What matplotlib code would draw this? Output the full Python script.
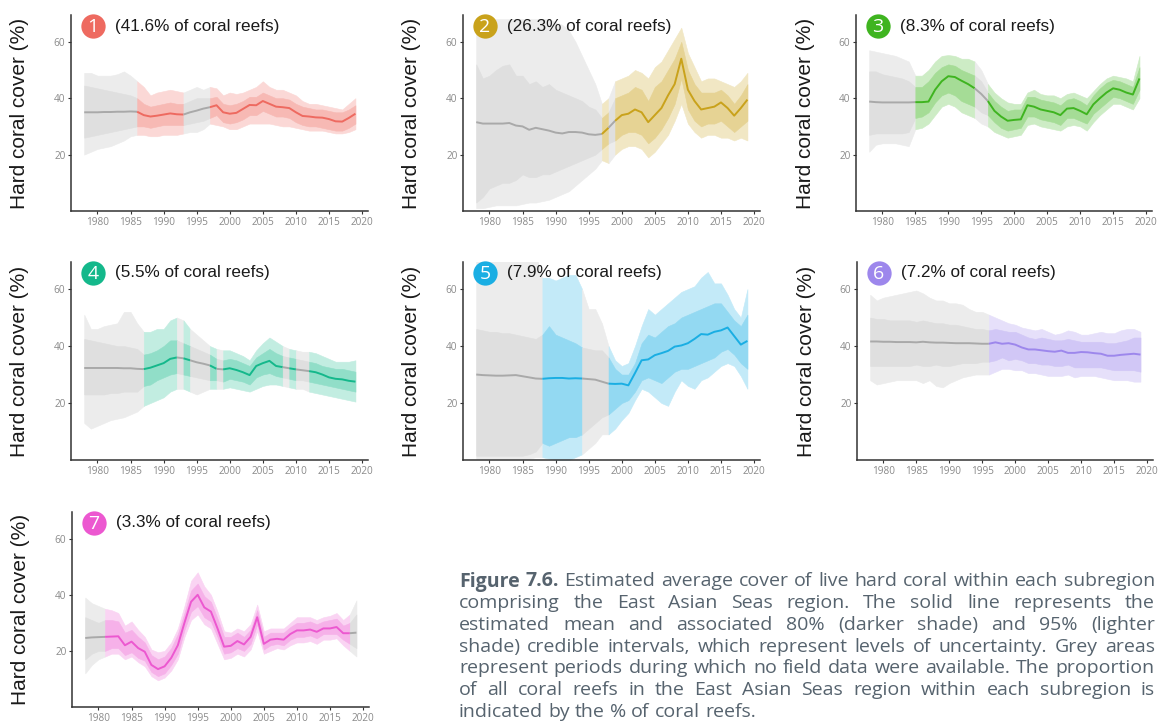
import numpy as np
import matplotlib
matplotlib.use("Agg")
import matplotlib.pyplot as plt
from matplotlib.colors import to_rgb

years = np.arange(1978, 2020)

# ---- panel 1 (41.6%)
mean_1 = [35.0, 35.0, 35.0, 35.1, 35.1, 35.2, 35.2, 35.3, 35.2, 34.0, 33.5, 33.8, 34.2, 34.6, 34.3,
          34.2, 35.0, 35.6, 36.3, 36.8, 37.5, 35.0, 34.5, 34.8, 36.2, 37.6, 37.5, 39.0, 38.0, 37.0,
          36.8, 36.5, 35.0, 33.7, 33.5, 33.2, 33.1, 32.6, 31.8, 31.7, 33.0, 34.5]
hi95_1 = [49, 49, 48, 48, 48, 48.5, 49.5, 48, 46, 44, 41, 42, 42.5, 43, 42.5, 42, 43, 44, 43,
          44, 43.5, 41, 42, 41.5, 42, 43, 44, 46, 44, 43, 43, 42, 41, 39, 38, 38, 37.5, 37, 36.5, 36, 38, 40]
lo95_1 = [20, 21, 22, 22.5, 23, 24, 25, 26.5, 27, 27, 26.5, 26.5, 27, 27, 27, 27.5, 28, 28, 29,
          31, 30.5, 30, 29, 29, 30, 31, 31, 31, 31, 30.5, 30, 30, 29.5, 29, 28.5, 28.5, 28.5, 28, 27.5, 27.5, 28, 29]
hi80_1 = [44.5, 44, 43.5, 43, 42.5, 42, 41.5, 41, 40, 38, 37, 37.5, 38, 38.5, 38, 38, 39, 40, 40,
          40, 40.5, 38, 37.5, 38, 39, 40.5, 40.5, 42, 41, 40, 40, 39.5, 38, 37, 36.5, 36, 36, 35.5, 35, 35, 36, 37.5]
lo80_1 = [26, 26.5, 27, 27.5, 28, 28.5, 29, 29.5, 30, 30, 29.5, 30, 30.5, 30.5, 30.5, 30.5, 31, 31.5, 32,
          33, 34, 31.5, 31, 31.5, 32.5, 34, 34, 35.5, 34.5, 33.5, 33.5, 33, 31.5, 30.5, 30, 30, 29.5, 29, 28.5, 28.5, 29.5, 31]
obs_1 = [(1986, 1993), (1997, 2019)]

# ---- panel 2 (26.3%)
mean_2 = [31.5, 31, 31, 31, 31, 31.2, 30.3, 30, 28.8, 29.5, 29, 28.5, 27.8, 27.5, 28, 28, 27.8, 27.2, 27,
          27.3, 29.5, 32, 34, 34.5, 36, 35, 31.5, 34, 36.5, 41, 45, 54, 43, 39, 36, 36.5, 37, 38.5, 36.5, 33.8, 36.5, 39.5]
hi95_2 = [66, 67, 68, 68, 68, 68, 68, 68, 68, 68, 68, 68, 67, 66, 64, 60, 55, 50, 45,
          38, 40, 46, 47, 48, 50, 49, 47, 51, 53, 57, 61, 65, 56, 51, 46, 47, 47, 46, 45, 44, 46, 49]
lo95_2 = [1, 1, 1.5, 2, 2, 2, 2, 2.5, 3, 3, 3.5, 4, 5, 6, 7, 9, 11, 13, 15,
          18, 17, 20, 22, 23, 23, 22, 19, 21, 24, 27, 32, 38, 31, 28, 26, 27, 27, 26, 26, 25, 26, 25]
hi80_2 = [52, 47, 48, 50, 51.5, 52, 48, 48, 45, 46, 44, 45, 43, 42, 41, 40, 39, 37, 36,
          33, 35, 40, 41, 42, 44, 43, 39, 44, 46, 50, 54, 60, 50, 45, 42, 42, 42, 43, 41, 38, 41, 45]
lo80_2 = [3, 5, 8, 9, 10, 10, 11, 13, 12, 12, 13, 13, 14, 15, 16, 17, 18, 19, 20,
          22, 24, 25, 27, 28, 28, 27, 24, 26, 29, 33, 38, 47, 36, 32, 30, 31, 31, 32, 30, 28, 30, 32]
obs_2 = [(1997, 1998), (1999, 2019)]

# ---- panel 3 (8.3%)
mean_3 = [38.8, 38.6, 38.5, 38.5, 38.5, 38.5, 38.5, 38.6, 38.6, 38.8, 43, 46, 47.8, 47.5, 46.2, 45, 43.5,
          41.5, 39, 35.5, 33.5, 32, 32.3, 32.5, 37.5, 37, 36, 35.5, 35, 34, 36.3, 36.5, 35.5, 34.3,
          37.8, 40, 42, 43.5, 43, 42, 41.3, 47]
hi95_3 = [57, 56.5, 56, 55.5, 55, 54, 53, 48, 48, 50, 53, 55, 55.3, 55, 54, 54, 53, 50,
          45, 42, 40, 38.5, 38, 38, 42, 43, 41.5, 41, 41, 40, 41.5, 42, 41, 40, 42.5, 45, 47, 48, 47.5, 47, 46, 55]
lo95_3 = [21, 23.5, 24, 24, 24, 23.5, 23, 29, 29.5, 31, 34, 37, 38, 37, 35, 34, 33, 31,
          30, 28, 27, 26, 26.5, 27, 30.5, 31, 30, 29.5, 29, 28.5, 30, 30.5, 30, 28.5, 31.5, 34, 36, 38, 38, 37, 36, 40]
hi80_3 = [49.5, 49.5, 48.5, 48, 47.5, 47, 46, 44, 44, 46, 49, 51, 52, 51.5, 50, 49, 48, 46,
          42, 39, 37, 35.5, 36, 36, 40.5, 40.5, 39.5, 39, 38.5, 37.5, 39.5, 40, 39, 37.5, 41, 43.5, 45.5, 46.5, 46, 45, 44, 51]
lo80_3 = [27, 27.5, 27.5, 27.5, 27.5, 27.5, 28, 33, 33.5, 35, 38.5, 41, 42, 41, 39, 38, 37, 35,
          34, 31.5, 29.5, 28.5, 29, 29.5, 33.5, 33.5, 32.5, 32, 31.5, 30.5, 33, 33, 32, 31, 34.5, 36.5, 38.5, 40.5, 40, 39, 38, 43]
obs_3 = [(1985, 1994), (1996, 2019)]

# ---- panel 4 (5.5%)
mean_4 = [32.3, 32.3, 32.3, 32.3, 32.3, 32.3, 32.2, 32.2, 32.0,
          31.9, 32.4, 33.2, 34.0, 35.5, 36.0, 35.7, 35.0, 34.3, 33.8, 33.2, 32.0, 31.8, 32.2, 31.6, 30.8,
          29.8, 33.0, 34.0, 34.8, 33.0, 32.6, 32.2, 31.8, 31.5, 31.2, 30.8, 30.0, 29.0, 28.5, 28.3, 27.8, 27.5]
hi95_4 = [51, 46, 46, 47, 47.5, 48, 52, 52, 48,
          45, 45, 46, 46, 49, 50, 49, 46, 44, 42, 40, 39, 38.5, 38.5, 37.5, 36.5, 35, 38.5, 41, 43,
          41.5, 40, 39, 38.5, 38, 38, 37.5, 36.5, 35.5, 34.5, 34.5, 34.5, 35]
lo95_4 = [13, 11, 12, 13, 14, 14.5, 15, 16, 17,
          19, 20, 21, 22, 24, 25, 25, 24, 23, 24, 25, 25, 25, 25.5, 25, 24.5, 24, 25, 26, 26.5,
          26.5, 26, 25.5, 25, 25, 24, 23.5, 23, 22.5, 22, 21.5, 21, 20.5]
hi80_4 = [42.5, 42, 41.5, 41, 40.5, 40, 40, 39.5, 39,
          37, 37.5, 38.5, 40, 42, 42, 41, 40, 39, 38, 37, 35.5, 35, 35.5, 35, 34, 33, 36, 37.5, 39,
          37.5, 36.5, 36, 35.5, 35, 34.5, 34, 33, 32.5, 32, 32, 31.5, 31]
lo80_4 = [23, 23, 23, 23, 23.5, 23.5, 24, 24, 24,
          26, 26.5, 28, 29, 30, 30.5, 30, 29.5, 29, 28.5, 28, 28, 27.5, 28.5, 28, 27.5, 26.5, 29, 30, 30.5,
          29.5, 29, 28.5, 28, 28, 27.5, 27, 26.5, 26, 25.5, 25, 24.5, 24]
obs_4 = [(1987, 1992), (1993, 1994), (1997, 1998), (1999, 2008), (2009, 2010), (2012, 2019)]

# ---- panel 5 (7.9%)
mean_5 = [30, 29.8, 29.7, 29.6, 29.6, 29.7, 29.8, 29.4, 29, 28.6, 28.5, 28.7, 28.8, 28.8, 28.6, 28.7,
          28.6, 28.4, 28.2, 27.5, 26.8, 26.7, 26.8, 26.2, 30.5, 35, 35.3, 36.8, 37.5, 38.3, 39.8, 40.2,
          41, 42.5, 44.2, 44, 45, 45.5, 46.5, 43.5, 40.5, 41.8]
hi95_5 = [72, 72, 72, 72, 72, 72, 72, 72, 72, 72, 64, 64, 63, 64, 65, 65, 60, 53, 53, 48,
          40, 35, 33, 34, 40, 47, 53, 51, 53, 55, 57, 59, 60, 61, 64, 66, 62, 62, 58, 53, 50, 60]
lo95_5 = [0.5, 0.5, 0.5, 0.5, 0.5, 0.5, 0.5, 0.5, 0.5, 1, 1, 0.5, 0, 0, 0, 1, 2, 4, 6, 9,
          9, 11, 14, 16.5, 21, 25, 24, 22, 20, 19, 24, 28, 26, 25, 28, 29, 31, 33, 34, 33, 29.5, 25]
hi80_5 = [46, 45.5, 45, 45, 44.5, 44.5, 44, 43.5, 43, 42.5, 44, 47, 44, 43, 42, 41, 39.5, 39, 38.5, 38.5,
          36, 32, 30, 30, 34, 41, 44, 43, 45, 47, 48, 50, 51, 52, 53, 54, 55, 55, 52, 49, 47, 51]
lo80_5 = [1.5, 1.5, 1.5, 1.5, 1.5, 1.5, 1.5, 1.5, 2, 3, 6, 5, 6, 7, 8, 8, 9, 11, 13, 15,
          16, 18, 20, 21, 24, 28, 29, 28, 27, 29, 31, 32, 32, 33, 34, 35, 36, 38, 39, 37, 34, 32]
obs_5 = [(1988, 1994), (1998, 2019)]

# ---- panel 6 (7.2%)
mean_6 = [41.6, 41.6, 41.5, 41.5, 41.4, 41.4, 41.4, 41.3, 41.5, 41.3, 41.2, 41.2, 41.1, 41.0, 41.0, 41.0,
          40.9, 40.8, 40.8, 41.3, 40.8, 41.0, 40.5, 39.5, 38.8, 38.8, 38.5, 38.2, 38.0, 38.4, 37.6, 37.6,
          37.9, 37.8, 37.5, 37.3, 36.6, 36.6, 36.9, 37.1, 37.3, 37.0]
hi95_6 = [58, 56, 57, 57.5, 58, 58.5, 59, 59.5, 58.5, 57, 56, 56, 55, 55, 54.5, 53, 52, 52, 51,
          50, 49, 48, 47.5, 46.5, 46, 45.5, 46, 45, 44, 44.5, 45.5, 45, 44, 44, 44.5, 45, 44.5, 44.5, 45.5, 46, 46, 45]
lo95_6 = [28, 26.5, 27, 27.5, 28, 28, 28, 28, 27, 28, 26, 25.5, 27, 28, 29, 29.5, 30, 30, 30,
          31, 32, 32, 31.5, 31.5, 30.5, 30.5, 30, 29.5, 29.5, 29.5, 30, 29, 29.5, 29.5, 29.5, 29, 28.5, 28, 28, 28, 27.5, 27.5]
hi80_6 = [50, 49.5, 49.5, 49, 49, 49, 49, 48.5, 49, 48.5, 48, 48, 47.5, 47.5, 47, 46.5, 46, 46, 45.5,
          46, 45.5, 45, 45, 44, 43, 42.5, 43, 42.5, 42, 42, 42.5, 42, 41.5, 41.5, 41.5, 41.5, 41, 41, 41.5, 42, 43, 43]
lo80_6 = [33, 33, 33, 33, 33, 33, 33, 33.5, 33, 33, 33.5, 33, 33, 33.5, 34, 34, 34, 34.5, 34.5,
          35, 36, 35, 35.5, 35, 34, 34, 33.5, 33.5, 33, 33, 33.5, 32.5, 32.5, 32.5, 32.5, 32.5, 32, 31.5, 31.5, 31.5, 31.5, 31]
obs_6 = [(1996, 2019)]

# ---- panel 7 (3.3%)
mean_7 = [24.6, 24.8, 24.9, 25.0, 25.1, 25.2, 22.0, 23.3, 21.0, 19.7, 15.0, 13.5, 14.5, 17.5, 22.0,
          30.0, 37.5, 40.0, 35.5, 34.0, 28.0, 21.5, 21.8, 23.5, 22.3, 25.0, 32.0, 22.5, 24.0, 24.3,
          24.0, 26.0, 27.3, 27.3, 27.6, 26.8, 28.0, 28.0, 28.5, 26.3, 26.3, 26.5]
hi95_7 = [39, 37, 36, 35, 34.5, 33.5, 29, 30.5, 27.5, 25, 20.5, 19.5, 20, 23, 28, 36, 45, 48, 43, 40,
          34, 27, 26.5, 28, 27, 29.5, 36.5, 27, 28, 28, 28, 30, 32, 32, 32, 31, 32, 32.5, 33.5, 31, 33, 38]
lo95_7 = [12, 15, 17, 18, 19, 19, 17, 18, 16, 14.5, 11, 9.5, 10.5, 13, 17, 25, 31, 33, 29.5, 28,
          22.5, 17, 17.5, 19, 18, 20.5, 27, 19, 20, 21, 20.5, 22, 23, 23, 23.5, 22.5, 24, 24, 24.5, 22, 20, 18]
hi80_7 = [32, 31, 30, 31, 31, 30.5, 26.5, 27.5, 25, 23, 18.5, 17, 18, 21, 26, 33.5, 41.5, 44, 39.5, 37.5,
          31.5, 25, 25, 26.5, 25, 27.5, 34.5, 25, 26.5, 26.5, 26.5, 28.5, 30, 30, 30.5, 29.5, 30.5, 31, 31.5, 29, 30, 33]
lo80_7 = [17, 19, 20, 20, 21, 21, 18.5, 19.5, 17.5, 16.5, 12.5, 11, 12, 15, 19, 27.5, 34, 36, 32, 30.5,
          25, 19, 19.5, 21, 20, 22.5, 29.5, 20.5, 22, 22.5, 22, 24, 25, 25, 25.5, 24.5, 26, 26, 26, 24, 22.5, 21]
obs_7 = [(1981, 2018)]

numbers = ["1", "2", "3", "4", "5", "6", "7"]
shares = ["41.6%", "26.3%", "8.3%", "5.5%", "7.9%", "7.2%", "3.3%"]
colors = ["#ee6a60", "#c9a21b", "#3fb420", "#14b88b", "#1aaee3", "#9d87ec", "#ec58d0"]

caption = [
    "Figure 7.6. Estimated average cover of live hard coral within each subregion",
    "comprising the East Asian Seas region. The solid line represents the",
    "estimated mean and associated 80% (darker shade) and 95% (lighter",
    "shade) credible intervals, which represent levels of uncertainty. Grey areas",
    "represent periods during which no field data were available. The proportion",
    "of all coral reefs in the East Asian Seas region within each subregion is",
    "indicated by the % of coral reefs.",
]

panels = [
    (mean_1, lo95_1, hi95_1, lo80_1, hi80_1, obs_1),
    (mean_2, lo95_2, hi95_2, lo80_2, hi80_2, obs_2),
    (mean_3, lo95_3, hi95_3, lo80_3, hi80_3, obs_3),
    (mean_4, lo95_4, hi95_4, lo80_4, hi80_4, obs_4),
    (mean_5, lo95_5, hi95_5, lo80_5, hi80_5, obs_5),
    (mean_6, lo95_6, hi95_6, lo80_6, hi80_6, obs_6),
    (mean_7, lo95_7, hi95_7, lo80_7, hi80_7, obs_7),
]

W, H = 1171, 725
# axes boxes in pixels: left, top, width, height
boxes = [(71, 15, 297, 196), (463, 15, 297, 196), (856, 15, 296, 196),
         (71, 262, 297, 198), (463, 262, 297, 198), (857, 262, 296, 198),
         (72, 512, 297, 195)]

fig = plt.figure(figsize=(W / 100, H / 100), dpi=100)


def mix(c, a):
    r = np.array(to_rgb(c))
    return tuple(1 - a * (1 - r))


def draw(ax, mean, lo95, hi95, lo80, hi80, obs, col):
    mean, lo95, hi95, lo80, hi80 = map(np.asarray, (mean, lo95, hi95, lo80, hi80))
    edges = sorted(set([years[0], years[-1]] + [e for s in obs for e in s]))
    segs = []
    for a, b in zip(edges[:-1], edges[1:]):
        on = any(s0 <= a and b <= s1 for s0, s1 in obs)
        m = (years >= a) & (years <= b)
        if on:
            segs.append((m, mix(col, 0.26), mix(col, 0.47), col))
        else:
            segs.append((m, "#ececec", "#dfdfdf", "#a9a9a9"))
    for m, c95, c80, cl in segs:
        ax.fill_between(years[m], lo95[m], hi95[m], color=c95, lw=0.4, ec=c95)
    for m, c95, c80, cl in segs:
        ax.fill_between(years[m], lo80[m], hi80[m], color=c80, lw=0.4, ec=c80)
    for m, c95, c80, cl in segs:
        ax.plot(years[m], mean[m], color=cl, lw=1.4, solid_capstyle="butt")


for k, (box, p) in enumerate(zip(boxes, panels)):
    l, t, w, h = box
    ax = fig.add_axes([l / W, 1 - (t + h) / H, w / W, h / H])
    draw(ax, *p, colors[k])
    ax.set_xlim(1976.0, 2020.9)
    ax.set_ylim(0, 69.5)
    ax.set_xticks(range(1980, 2021, 5))
    ax.set_yticks([20, 40, 60])
    for s in ("top", "right"):
        ax.spines[s].set_visible(False)
    for s in ("left", "bottom"):
        ax.spines[s].set_color("#333333")
        ax.spines[s].set_linewidth(1.1)
    ax.tick_params(length=2.5, width=0.8, color="#333333", labelcolor="#8a8a8a",
                   labelsize=7.2, pad=1.5)
    for lab in ax.get_xticklabels() + ax.get_yticklabels():
        lab.set_family("Open Sans")
    ax.set_ylabel("Hard coral cover (%)", fontsize=15, family="Liberation Sans", color="#1a1a1a")
    ax.yaxis.set_label_coords(-0.14, 0.5)
    # numbered badge + share text
    bx, by = 22 / w, 1 - 11 / h
    ax.plot([bx], [by], "o", ms=17.5, color=colors[k], mec="none", transform=ax.transAxes,
            clip_on=False, zorder=10)
    ax.text(bx, by - 0.005, numbers[k], transform=ax.transAxes, ha="center", va="center",
            color="white", fontsize=14, family="Open Sans", zorder=11)
    ax.text(44 / w, by, "(%s of coral reefs)" % shares[k], transform=ax.transAxes,
            ha="left", va="center", fontsize=12.3, family="Liberation Sans", color="#1a1a1a",
            zorder=11)

# justified caption
renderer = fig.canvas.get_renderer()
cap_size = 14
cap_font = "Open Sans"
cap_col = "#56636e"
x0, x1 = 459, 1155
probe = fig.text(0, 0, "x x", fontsize=cap_size, family=cap_font)
probe2 = fig.text(0, 0, "xx", fontsize=cap_size, family=cap_font)
space = probe.get_window_extent(renderer).width - probe2.get_window_extent(renderer).width
probe.remove()
probe2.remove()
for i, line in enumerate(caption):
    y = 586.5 + i * 21.67
    words = line.split()
    texts = []
    for j, wd in enumerate(words):
        bold = (i == 0 and j < 2)
        texts.append(fig.text(0, 1 - y / H, wd, fontsize=cap_size, family=cap_font,
                              weight="bold" if bold else "normal", color=cap_col,
                              va="baseline", ha="left"))
    widths = [tx.get_window_extent(renderer).width for tx in texts]
    if i == len(caption) - 1:
        gap = space
    else:
        gap = max((x1 - x0 - sum(widths)) / (len(words) - 1), 0.5 * space)
    x = x0
    for tx, wd in zip(texts, widths):
        tx.set_x(x / W)
        x += wd + gap

fig.savefig("out.png", dpi=100)
